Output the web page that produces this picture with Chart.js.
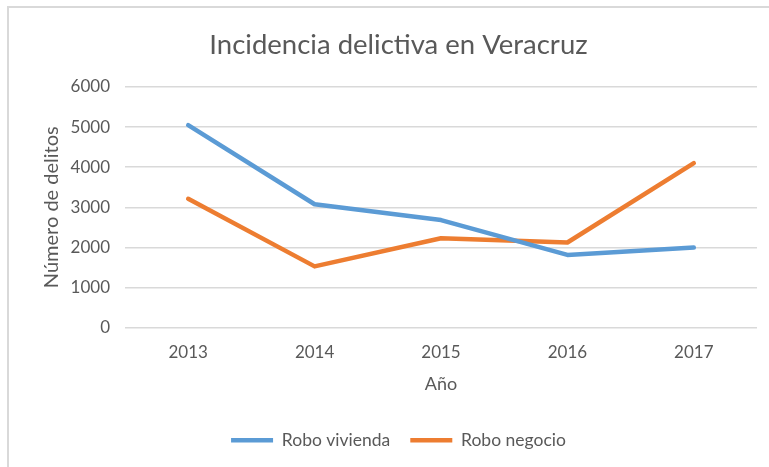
<!DOCTYPE html>
<html>
<head>
<meta charset="utf-8">
<script src="https://cdn.jsdelivr.net/npm/chart.js@4.4.1/dist/chart.umd.min.js"></script>
<style>
  html, body { margin: 0; padding: 0; background: #fff; }
  .frame {
    position: absolute; left: 7px; top: 6px; width: 769px; height: 467px;
    border-top: 2px solid #d9d9d9; border-left: 2px solid #d9d9d9;
  }
  .wrap { position: absolute; left: 0; top: 0; width: 769px; height: 467px; }
</style>
</head>
<body>
<div class="frame"></div>
<div class="wrap"><canvas id="chart" width="769" height="467"></canvas></div>
<script>
const years = ['2013', '2014', '2015', '2016', '2017'];
const roboVivienda = [5050, 3075, 2680, 1810, 1995];
const roboNegocio = [3210, 1525, 2225, 2120, 4100];

const textColor = '#595959';
const fontName = 'Lato';

const ctx = document.getElementById('chart').getContext('2d');
new Chart(ctx, {
    type: 'line',
    data: {
        labels: years,
        datasets: [{
            label: 'Robo vivienda',
            data: roboVivienda,
            borderColor: '#5B9BD5',
            backgroundColor: '#5B9BD5',
            borderWidth: 4.5,
            pointRadius: 0,
            tension: 0,
            borderCapStyle: 'round',
            borderJoinStyle: 'round'
        }, {
            label: 'Robo negocio',
            data: roboNegocio,
            borderColor: '#ED7D31',
            backgroundColor: '#ED7D31',
            borderWidth: 4.5,
            pointRadius: 0,
            tension: 0,
            borderCapStyle: 'round',
            borderJoinStyle: 'round'
        }]
    },
    options: {
        responsive: false,
        animation: false,
        layout: { padding: { left: 40, right: 12, top: 0, bottom: 8 } },
        plugins: {
            title: {
                display: true,
                text: 'Incidencia delictiva en Veracruz',
                color: textColor,
                font: { family: fontName, size: 27.5, weight: 'normal' },
                padding: { top: 29, bottom: 25 }
            },
            legend: {
                position: 'bottom',
                labels: {
                    color: textColor,
                    font: { family: fontName, size: 17.5 },
                    usePointStyle: true,
                    pointStyle: 'line',
                    pointStyleWidth: 42,
                    boxWidth: 42,
                    padding: 20
                }
            },
            tooltip: { enabled: false }
        },
        scales: {
            x: {
                offset: true,
                afterFit: (scale) => { scale.height = 84; },
                grid: { display: false, drawTicks: false },
                border: { display: false },
                ticks: {
                    color: textColor,
                    font: { family: fontName, size: 17 },
                    padding: 15
                },
                title: {
                    display: true,
                    text: 'Año',
                    color: textColor,
                    font: { family: fontName, size: 18 },
                    padding: { top: 0, bottom: 17 }
                }
            },
            y: {
                min: 0,
                max: 6000,
                afterFit: (scale) => { scale.width = 85; },
                ticks: {
                    stepSize: 1000,
                    color: textColor,
                    font: { family: fontName, size: 17 },
                    padding: 15,
                    callback: (v) => String(v)
                },
                grid: {
                    color: '#d9d9d9',
                    lineWidth: 1.5,
                    drawTicks: false
                },
                border: { display: false },
                title: {
                    display: true,
                    text: 'Número de delitos',
                    color: textColor,
                    font: { family: fontName, size: 20 },
                    padding: { top: 0, bottom: 0 }
                }
            }
        }
    }
});
</script>
</body>
</html>
